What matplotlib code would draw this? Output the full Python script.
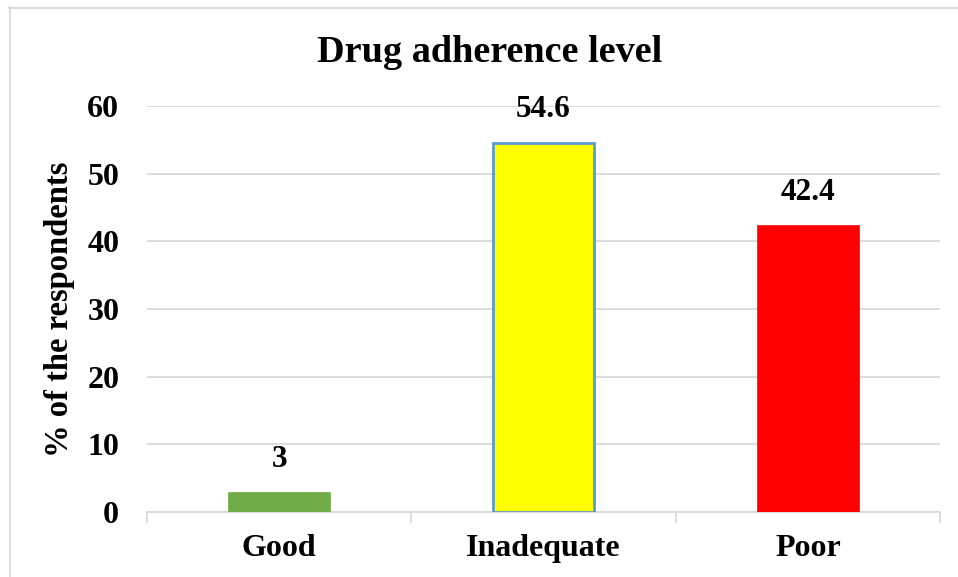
import matplotlib
matplotlib.use("Agg")
import matplotlib.pyplot as plt
from matplotlib.lines import Line2D

# data
categories = ["Good", "Inadequate", "Poor"]
values = [3, 54.6, 42.4]
bar_colors = ["#70AD47", "#FFFF00", "#FF0000"]
edge_colors = ["#70AD47", "#5B9BD5", "#FF0000"]
edge_widths = [0.5, 2.0, 0.5]
yticks = [0, 10, 20, 30, 40, 50, 60]

plt.rcParams["font.family"] = ["Liberation Serif", "DejaVu Serif"]
plt.rcParams["font.weight"] = "bold"

W, H = 958, 577
fig = plt.figure(figsize=(W / 100, H / 100), dpi=100)
ax = fig.add_axes([147 / W, 1 - 512 / H, (940 - 147) / W, (512 - 106) / H])

x = range(len(categories))
ax.bar(x, values, width=0.385, color=bar_colors, edgecolor=edge_colors,
       linewidth=edge_widths, zorder=3)

for i, v in enumerate(values):
    ax.annotate(f"{v:g}", (i, v), xytext=(0, 13), textcoords="offset points",
                ha="center", va="bottom", fontsize=22.5, fontweight="bold")

ax.set_xlim(-0.5, len(categories) - 0.5)
ax.set_ylim(0, 60)
ax.set_yticks(yticks)
ax.set_xticks(list(x))
ax.set_xticklabels(categories)
ax.set_xticks([-0.5, 0.5, 1.5, 2.5], minor=True)

ax.tick_params(axis="y", length=0, pad=20, labelsize=23)
ax.tick_params(axis="x", which="major", length=0, pad=16, labelsize=23)
ax.tick_params(axis="x", which="minor", length=8, width=1.3, color="#D9D9D9",
               direction="out")

ax.grid(axis="y", color="#D9D9D9", linewidth=1.3, zorder=0)
for s in ["top", "right", "left"]:
    ax.spines[s].set_visible(False)
ax.spines["bottom"].set_color("#D9D9D9")
ax.spines["bottom"].set_linewidth(1.3)

ax.set_ylabel("% of the respondents", fontsize=23.5, fontweight="bold", labelpad=9)
fig.text(490 / W, 1 - 53 / H, "Drug adherence level", ha="center", va="center",
         fontsize=27.5, fontweight="bold")

# outer chart border (top and left visible)
fig.add_artist(Line2D([9 / W, 1], [1 - 7.5 / H, 1 - 7.5 / H], color="#D9D9D9", lw=1.3))
fig.add_artist(Line2D([9.5 / W, 9.5 / W], [0, 1 - 7 / H], color="#D9D9D9", lw=1.3))

fig.savefig("out.png", dpi=100)
